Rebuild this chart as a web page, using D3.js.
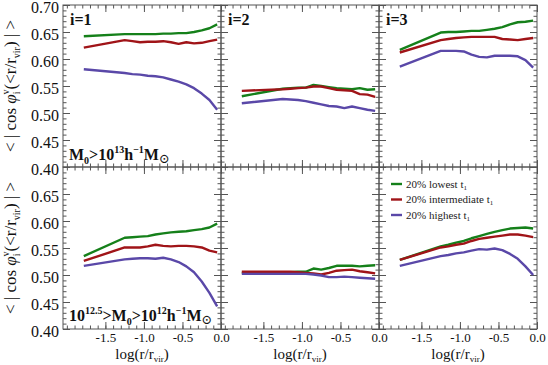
<!DOCTYPE html>
<html>
<head>
<meta charset="utf-8">
<script src="https://cdn.jsdelivr.net/npm/d3@7"></script>
<style>
  body { margin: 0; background: #fff; }
  svg { display: block; }
  svg text { font-family: "Liberation Serif", "Times New Roman", Times, "DejaVu Serif", "Noto Serif", serif; }
</style>
</head>
<body>
<svg id="chart" width="548" height="365"></svg>
<script>
// radial bins, log(r/r_vir)
const radii = [-1.78, -1.25, -1.15, -1.05, -0.95, -0.85, -0.75, -0.65, -0.55, -0.45, -0.35, -0.25, -0.15, -0.05];

// top row: M0 > 10^13, one array per panel (i=1,2,3)
const hiLowest = [
  [0.642, 0.646, 0.646, 0.646, 0.646, 0.646, 0.647, 0.647, 0.648, 0.648, 0.650, 0.653, 0.657, 0.664],
  [0.531, 0.545, 0.546, 0.547, 0.547, 0.552, 0.550, 0.548, 0.546, 0.545, 0.544, 0.546, 0.543, 0.544],
  [0.617, 0.649, 0.650, 0.650, 0.651, 0.652, 0.652, 0.654, 0.656, 0.659, 0.664, 0.668, 0.669, 0.671]
];
const hiMiddle = [
  [0.621, 0.635, 0.633, 0.631, 0.632, 0.632, 0.633, 0.631, 0.628, 0.631, 0.629, 0.630, 0.633, 0.636],
  [0.541, 0.544, 0.545, 0.546, 0.547, 0.549, 0.549, 0.546, 0.543, 0.542, 0.541, 0.535, 0.534, 0.530],
  [0.612, 0.635, 0.637, 0.639, 0.640, 0.641, 0.641, 0.641, 0.641, 0.637, 0.636, 0.635, 0.637, 0.639]
];
const hiHighest = [
  [0.581, 0.574, 0.572, 0.571, 0.569, 0.568, 0.566, 0.562, 0.558, 0.553, 0.546, 0.536, 0.524, 0.506],
  [0.518, 0.526, 0.525, 0.524, 0.522, 0.519, 0.516, 0.513, 0.512, 0.509, 0.512, 0.509, 0.506, 0.504],
  [0.586, 0.615, 0.615, 0.615, 0.614, 0.608, 0.604, 0.603, 0.606, 0.606, 0.606, 0.605, 0.598, 0.584]
];

// bottom row: 10^12.5 > M0 > 10^12
const loLowest = [
  [0.535, 0.569, 0.570, 0.571, 0.572, 0.575, 0.577, 0.579, 0.580, 0.581, 0.583, 0.585, 0.588, 0.595],
  [0.504, 0.505, 0.505, 0.506, 0.506, 0.512, 0.510, 0.513, 0.517, 0.517, 0.517, 0.516, 0.517, 0.518],
  [0.528, 0.553, 0.556, 0.560, 0.563, 0.568, 0.572, 0.576, 0.580, 0.583, 0.586, 0.587, 0.588, 0.586]
];
const loMiddle = [
  [0.526, 0.551, 0.551, 0.551, 0.553, 0.556, 0.554, 0.553, 0.554, 0.554, 0.553, 0.551, 0.545, 0.542],
  [0.506, 0.506, 0.506, 0.505, 0.504, 0.503, 0.501, 0.504, 0.508, 0.509, 0.510, 0.507, 0.505, 0.503],
  [0.528, 0.551, 0.553, 0.556, 0.558, 0.563, 0.567, 0.569, 0.571, 0.573, 0.575, 0.575, 0.573, 0.570]
];
const loHighest = [
  [0.517, 0.529, 0.530, 0.531, 0.531, 0.530, 0.532, 0.529, 0.524, 0.516, 0.505, 0.488, 0.467, 0.442],
  [0.502, 0.502, 0.502, 0.502, 0.502, 0.501, 0.499, 0.496, 0.496, 0.497, 0.496, 0.495, 0.494, 0.493],
  [0.517, 0.535, 0.537, 0.540, 0.542, 0.545, 0.548, 0.547, 0.549, 0.546, 0.539, 0.530, 0.516, 0.500]
];

const seriesNames = ["20% lowest t", "20% intermediate t", "20% highest t"];
const seriesColors = ["#15801a", "#a01418", "#5a48a8"];
const panelNames = ["i=1", "i=2", "i=3"];
const xTicks = [-1.5, -1.0, -0.5, 0.0];
const yTicksTop = [0.40, 0.45, 0.50, 0.55, 0.60, 0.65, 0.70];
const yTicksBottom = [0.40, 0.45, 0.50, 0.55, 0.60, 0.65];

const SERIF = "'Liberation Serif', 'Times New Roman', Times, 'DejaVu Serif', 'Noto Serif', serif";
const svg = d3.select("#chart");
const padLeft = 63, padTop = 5, colW = 158, rowH = 162;

const rows = [
  [hiLowest, hiMiddle, hiHighest],
  [loLowest, loMiddle, loHighest]
];

const xMinor = d3.range(-2.0, 0.001, 0.1).map(v => +v.toFixed(2));
const yMinor = d3.range(0.40, 0.7001, 0.01).map(v => +v.toFixed(2));

const line = (x, y) => d3.line().x(d => x(d[0])).y(d => y(d[1]));

rows.forEach((series, r) => {
  const y = d3.scaleLinear().domain([0.40, 0.70]).range([padTop + (r + 1) * rowH, padTop + r * rowH]);

  for (let c = 0; c < 3; c++) {
    const x = d3.scaleLinear().domain([-2.05, 0.0]).range([padLeft + c * colW, padLeft + (c + 1) * colW]);
    const x0 = x.range()[0], x1 = x.range()[1];
    const y0 = y.range()[1], y1 = y.range()[0];
    const g = svg.append("g");

    // ticks on all four sides, pointing inward
    const sides = [
      [() => d3.axisBottom(x), `translate(0,${y1})`, xTicks, xMinor],
      [() => d3.axisTop(x), `translate(0,${y0})`, xTicks, xMinor],
      [() => d3.axisLeft(y), `translate(${x0},0)`, yTicksTop, yMinor],
      [() => d3.axisRight(y), `translate(${x1},0)`, yTicksTop, yMinor]
    ];
    sides.forEach(([ax, tr, major, minor]) => {
      g.append("g").attr("transform", tr)
        .call(ax().tickValues(minor).tickSize(-3.5).tickFormat(""))
        .call(s => s.select(".domain").remove())
        .selectAll("line").attr("stroke", "#555");
      g.append("g").attr("transform", tr)
        .call(ax().tickValues(major).tickSize(-7).tickFormat(""))
        .call(s => s.select(".domain").remove())
        .selectAll("line").attr("stroke", "#555");
    });

    // the curves
    series.forEach((s, k) => {
      g.append("path")
        .datum(d3.zip(radii, s[c]))
        .attr("fill", "none")
        .attr("stroke", seriesColors[k])
        .attr("stroke-width", 2.4)
        .attr("stroke-linejoin", "round")
        .attr("d", line(x, y));
    });

    // frame
    g.append("rect")
      .attr("x", x0).attr("y", y0).attr("width", x1 - x0).attr("height", y1 - y0)
      .attr("fill", "none").attr("stroke", "#555").attr("stroke-width", 1);

    // x tick labels and title on bottom row
    if (r === 1) {
      g.append("g").attr("transform", `translate(0,${y1})`)
        .call(d3.axisBottom(x).tickValues(xTicks).tickSize(0).tickPadding(4)
          .tickFormat(d => d === 0 ? "0.0" : d3.format(".1f")(d).replace("−", "-")))
        .call(s => s.select(".domain").remove())
        .selectAll("text").attr("font-size", 13).attr("font-family", SERIF).attr("fill", "#111");
      const t = g.append("text")
        .attr("x", (x0 + x1) / 2).attr("y", 359)
        .attr("text-anchor", "middle").attr("font-size", 15).attr("fill", "#111");
      t.append("tspan").text("log(r/r");
      t.append("tspan").attr("font-size", 9).attr("dy", 3).text("vir");
      t.append("tspan").attr("dy", -3).text(")");
    }

    // y tick labels on left column
    if (c === 0) {
      g.append("g").attr("transform", `translate(${x0},0)`)
        .call(d3.axisLeft(y).tickValues(r === 0 ? yTicksTop : yTicksBottom)
          .tickSize(0).tickPadding(4).tickFormat(d3.format(".2f")))
        .call(s => s.select(".domain").remove())
        .selectAll("text").attr("font-size", 16).attr("font-family", SERIF)
        .attr("fill", "#111").attr("dy", "0.48em");
    }

    // panel name on top row
    if (r === 0) {
      g.append("text").attr("x", x0 + 7).attr("y", y0 + 20)
        .attr("font-size", 16).attr("font-weight", "bold").attr("fill", "#111")
        .text(panelNames[c]);
    }
  }

  // y axis title
  const cy = padTop + r * rowH + rowH / 2;
  const yt = svg.append("text")
    .attr("transform", `translate(16,${cy}) rotate(-90)`)
    .attr("text-anchor", "middle").attr("font-size", 17).attr("fill", "#111");
  yt.append("tspan").text("< | cos ");
  yt.append("tspan").attr("font-style", "italic").text("φ");
  yt.append("tspan").attr("font-size", 10).attr("dy", 4).text("i");
  yt.append("tspan").attr("font-size", 10).attr("dx", -3).attr("dy", -11).text("v");
  yt.append("tspan").attr("dy", 7).text("(<r/r");
  yt.append("tspan").attr("font-size", 10).attr("dy", 4).text("vir");
  yt.append("tspan").attr("dy", -4).text(") | >");
});

// mass labels
function massLabel(yPos, parts) {
  const t = svg.append("text").attr("x", 69).attr("y", yPos)
    .attr("font-size", 16).attr("font-weight", "bold").attr("fill", "#111");
  let shift = 0;
  parts.forEach(([txt, kind]) => {
    const sp = t.append("tspan").text(txt);
    const want = kind === "sub" ? 4 : kind === "sup" ? -7 : kind === "sun" ? 3 : 0;
    if (kind === "sub" || kind === "sup") sp.attr("font-size", 10);
    if (kind === "sun") sp.attr("font-weight", "normal").attr("font-size", 13);
    sp.attr("dy", want - shift);
    shift = want;
  });
}
massLabel(160, [["M", ""], ["0", "sub"], [">10", ""], ["13", "sup"], ["h", ""], ["−1", "sup"], ["M", ""], ["⊙", "sun"]]);
massLabel(321, [["10", ""], ["12.5", "sup"], [">M", ""], ["0", "sub"], [">10", ""], ["12", "sup"], ["h", ""], ["−1", "sup"], ["M", ""], ["⊙", "sun"]]);

// legend in bottom-right panel
const legend = svg.append("g");
seriesNames.forEach((name, k) => {
  const ly = 184 + k * 15.5;
  legend.append("line").attr("x1", 391).attr("x2", 402).attr("y1", ly).attr("y2", ly)
    .attr("stroke", seriesColors[k]).attr("stroke-width", 2.4);
  const t = legend.append("text").attr("x", 406).attr("y", ly + 3.5)
    .attr("font-size", 11).attr("fill", "#222");
  t.append("tspan").text(name);
  t.append("tspan").attr("font-size", 7).attr("dy", 2).text("1");
});
</script>
</body>
</html>
